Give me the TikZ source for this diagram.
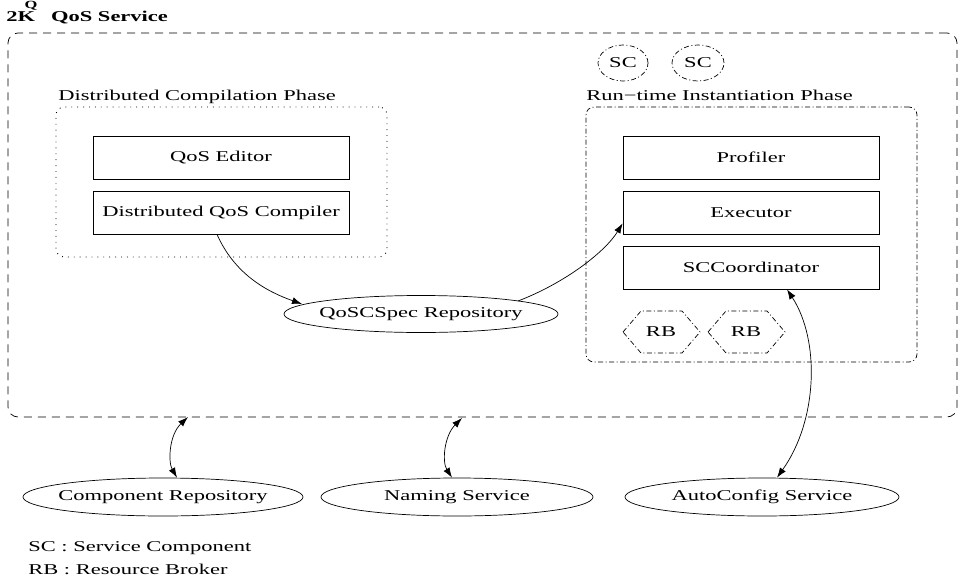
\documentclass[tikz,border=0pt]{standalone}
\usepackage{fontspec}
\setmainfont{Liberation Serif}[FakeStretch=1.5]
\usetikzlibrary{arrows.meta,calc,shapes.geometric}
\begin{document}
\begin{tikzpicture}[x=1pt,y=-1pt,line width=0.7pt,
  font=\fontsize{15}{18}\selectfont,
  box/.style={draw,rectangle,minimum width=256pt,minimum height=43pt,inner sep=0pt},
  oval/.style={draw,ellipse,inner xsep=-20pt,inner ysep=0pt,minimum height=37pt},
  dashdot/.style={dash pattern=on 5pt off 2.5pt on 1pt off 2.5pt},
  longdash/.style={dash pattern=on 8pt off 6pt},
  dots/.style={line width=0.9pt,dash pattern=on 0.9pt off 5pt},
  tip/.tip={Latex[length=10pt,width=7pt]},
  arr/.style={-tip},
  barr/.style={tip-tip},
  lbl/.style={anchor=base west,inner sep=0pt}]
\useasboundingbox (0,0) rectangle (959,581);

% title
\node[lbl,font=\fontsize{15}{18}\selectfont\bfseries] (title) at (6,21) {2K\hspace{16pt}QoS Service};
\node[anchor=base,inner sep=0pt,font=\fontsize{11}{13}\selectfont\bfseries] (titleq) at (31,8) {Q};

% service frame
\node[draw,longdash,rounded corners=10pt,minimum width=949pt,minimum height=384pt] (svc) at (482.5,225) {};

% compilation phase
\node[draw,dots,rounded corners=8pt,minimum width=331pt,minimum height=150pt] (comp) at (221.5,182) {};
\node[lbl] (complbl) at (58,100) {Distributed Compilation Phase};
\node[box] (editor) at (221,157.5) {QoS Editor};
\node[box] (compiler) at (221,212.5) {Distributed QoS Compiler};

% run-time phase
\node[draw,dashdot,rounded corners=8pt,minimum width=331pt,minimum height=255pt] (run) at (751.5,234.5) {};
\node[lbl] (runlbl) at (586,100) {Run−time Instantiation Phase};
\node[box] (profiler) at (751,157.5) {Profiler};
\node[box] (executor) at (751,212.5) {Executor};
\node[box] (scc) at (751,267.5) {SCCoordinator};

% service components
\node[draw,dashdot,ellipse,inner sep=0pt,minimum width=50pt,minimum height=36pt] (sc1) at (623,63) {SC};
\node[draw,dashdot,ellipse,inner sep=0pt,minimum width=52pt,minimum height=36pt] (sc2) at (698,63) {SC};

% resource brokers
\node (rb1) at (661,332) {RB};
\node (rb2) at (746,332) {RB};
\foreach \r in {rb1,rb2}
  \draw[dashdot] ($(\r)+(-38,0)$) -- ++(18,-21) -- ++(41,0) -- ++(18,21)
    -- ++(-18,21) -- ++(-41,0) -- cycle;

% repositories and services
\node[oval,minimum width=274pt] (qos) at (421,314) {QoSCSpec Repository};
\node[oval,minimum width=280pt,minimum height=38pt] (crep) at (163,497) {Component Repository};
\node[oval,minimum width=272pt,minimum height=38pt] (naming) at (457,497) {Naming Service};
\node[oval,minimum width=274pt,minimum height=38pt] (auto) at (762,497) {AutoConfig Service};

% legend
\node[lbl] (leg1) at (28,551) {SC : Service Component};
\node[lbl] (leg2) at (28,574) {RB : Resource Broker};

% connectors
\coordinate (svcA) at (188,417);
\coordinate (svcB) at (462,418);
\draw[arr] ([xshift=-4pt]compiler.south) .. controls (235,275) and (268,292) .. ($(qos)+(-119,-10)$);
\draw[arr] ($(qos)+(97,-13)$) .. controls (565,283) and (605,252) .. ([yshift=11pt]executor.south west);
\draw[barr] ([xshift=36pt]scc.south) .. controls (820,340) and (818,420) .. ($(auto.north)+(15,0)$);
\draw[barr] (svcA) .. controls (169,435) and (168,462) .. ($(crep.north)+(14,0)$);
\draw[barr] (svcB) .. controls (444,436) and (442,462) .. ($(naming.north)+(-5,0)$);
\end{tikzpicture}
\end{document}
